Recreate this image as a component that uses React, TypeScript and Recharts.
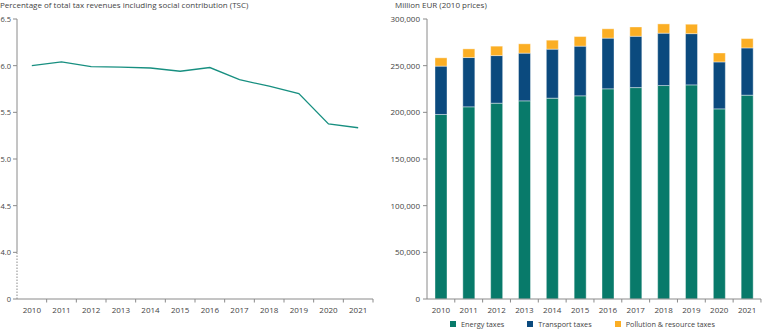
import { Bar, BarChart, Legend, Line, LineChart, XAxis, YAxis } from 'recharts';

const years = ['2010', '2011', '2012', '2013', '2014', '2015', '2016', '2017', '2018', '2019', '2020', '2021'];
const shareOfTsc = [6.0, 6.04, 5.99, 5.985, 5.975, 5.94, 5.98, 5.85, 5.78, 5.7, 5.375, 5.335];
const energyTaxes = [197700, 205900, 209800, 212300, 215200, 217700, 225200, 226500, 228700, 229400, 203700, 218400];
const transportTaxes = [51800, 52800, 51000, 51100, 52500, 53200, 54300, 55000, 56100, 54900, 50300, 50600];
const pollutionTaxes = [8900, 9300, 10100, 10000, 9600, 10300, 10000, 10000, 9950, 10100, 9600, 10000];
const seriesNames = ['Energy taxes', 'Transport taxes', 'Pollution & resource taxes'];

// 3.5 stands in for the broken "0" at the bottom of the left axis
const leftTicks = [3.5, 4.0, 4.5, 5.0, 5.5, 6.0, 6.5];
const rightTicks = [0, 50000, 100000, 150000, 200000, 250000, 300000];

const lineData = years.map((year, i) => ({ year, value: shareOfTsc[i] }));
const barData = years.map((year, i) => ({
    year,
    energy: energyTaxes[i],
    transport: transportTaxes[i],
    pollution: pollutionTaxes[i],
}));

const FONT = '"Open Sans", sans-serif';
const AXIS = '#8a8a8a';
const TEXT = '#444';
const FS = 8;
const PLOT_H = 280;

function XTick({ x, y, payload, bw }: any) {
    return (
        <g>
            <line x1={x + bw / 2} x2={x + bw / 2} y1={y} y2={y + 3.5} stroke={AXIS} />
            <text x={x} y={y + 14} textAnchor="middle" fontSize={FS} fill={TEXT} fontFamily={FONT}>
                {payload.value}
            </text>
        </g>
    );
}

function LeftYTick({ x, y, payload }: any) {
    const step = PLOT_H / (leftTicks.length - 1);
    const isBottom = payload.value === 3.5;
    const isTop = payload.value === 6.5;
    return (
        <g>
            <line x1={x - 4} x2={x} y1={y} y2={y} stroke={AXIS} />
            {!isTop && (
                <line
                    x1={x}
                    x2={x}
                    y1={y}
                    y2={y - step}
                    stroke={AXIS}
                    strokeDasharray={isBottom ? '1.5 1.5' : undefined}
                />
            )}
            <text x={x - 6} y={y + 3} textAnchor="end" fontSize={7.5} fill={TEXT} fontFamily={FONT}>
                {isBottom ? '0' : payload.value.toFixed(1)}
            </text>
        </g>
    );
}

function LegendContent({ payload }: any) {
    const items = [...(payload || [])].sort((a: any, b: any) => seriesNames.indexOf(a.value) - seriesNames.indexOf(b.value));
    return (
        <div style={{ display: 'flex', justifyContent: 'center', gap: 23, fontFamily: FONT, fontSize: 7.3, color: TEXT, whiteSpace: 'nowrap', paddingLeft: 20 }}>
            {items.map((p: any) => (
                <div key={p.value} style={{ display: 'flex', alignItems: 'center', gap: 5, flexShrink: 0 }}>
                    <span style={{ width: 6, height: 6, background: p.color, display: 'inline-block', flexShrink: 0 }} />
                    <span>{p.value}</span>
                </div>
            ))}
        </div>
    );
}

export default function App() {
    const leftBw = 356 / years.length;
    const rightBw = 333 / years.length;
    return (
        <div style={{ position: 'absolute', left: 0, top: 0, width: 768, height: 330, background: '#fff', fontFamily: FONT }}>
            <div style={{ position: 'absolute', left: 0, top: -1, fontSize: FS, color: TEXT, whiteSpace: 'nowrap' }}>
                Percentage of total tax revenues including social contribution (TSC)
            </div>
            <div style={{ position: 'absolute', left: 395, top: -1, fontSize: FS, color: TEXT, whiteSpace: 'nowrap' }}>
                Million EUR (2010 prices)
            </div>
            <div style={{ position: 'absolute', left: 0, top: 0 }}>
                <LineChart width={384} height={330} data={lineData} margin={{ top: 19, right: 11, bottom: 0, left: 0 }}>
                    <XAxis
                        dataKey="year"
                        scale="band"
                        height={31}
                        stroke={AXIS}
                        tickLine={false}
                        tickSize={0}
                        tickMargin={0}
                        interval={0}
                        tick={<XTick bw={leftBw} />}
                    />
                    <YAxis
                        width={17}
                        domain={[3.5, 6.5]}
                        ticks={leftTicks}
                        axisLine={false}
                        tickLine={false}
                        tickSize={0}
                        tickMargin={0}
                        interval={0}
                        tick={<LeftYTick />}
                    />
                    <Line
                        dataKey="value"
                        stroke="#178f80"
                        strokeWidth={1.3}
                        dot={false}
                        isAnimationActive={false}
                    />
                </LineChart>
            </div>
            <div style={{ position: 'absolute', left: 384, top: 0 }}>
                <BarChart width={384} height={330} data={barData} barSize={12} margin={{ top: 19, right: 7, bottom: 0, left: 0 }}>
                    <XAxis
                        dataKey="year"
                        height={20}
                        stroke={AXIS}
                        tickLine={false}
                        tickSize={0}
                        tickMargin={0}
                        interval={0}
                        tick={<XTick bw={rightBw} />}
                    />
                    <YAxis
                        width={43}
                        domain={[0, 300000]}
                        ticks={rightTicks}
                        stroke={AXIS}
                        tickSize={4}
                        tickMargin={3}
                        interval={0}
                        tick={{ fontSize: FS, fill: TEXT, fontFamily: FONT }}
                        tickFormatter={(v: number) => v.toLocaleString('en-US')}
                    />
                    <Legend verticalAlign="bottom" height={11} content={<LegendContent />} />
                    <Bar dataKey="energy" name={seriesNames[0]} stackId="a" fill="#087a6a" stroke="#ffffff" strokeWidth={0.4} isAnimationActive={false} />
                    <Bar dataKey="transport" name={seriesNames[1]} stackId="a" fill="#0b4a7e" stroke="#ffffff" strokeWidth={0.4} isAnimationActive={false} />
                    <Bar dataKey="pollution" name={seriesNames[2]} stackId="a" fill="#fbae24" stroke="#ffffff" strokeWidth={0.4} isAnimationActive={false} />
                </BarChart>
            </div>
        </div>
    );
}
